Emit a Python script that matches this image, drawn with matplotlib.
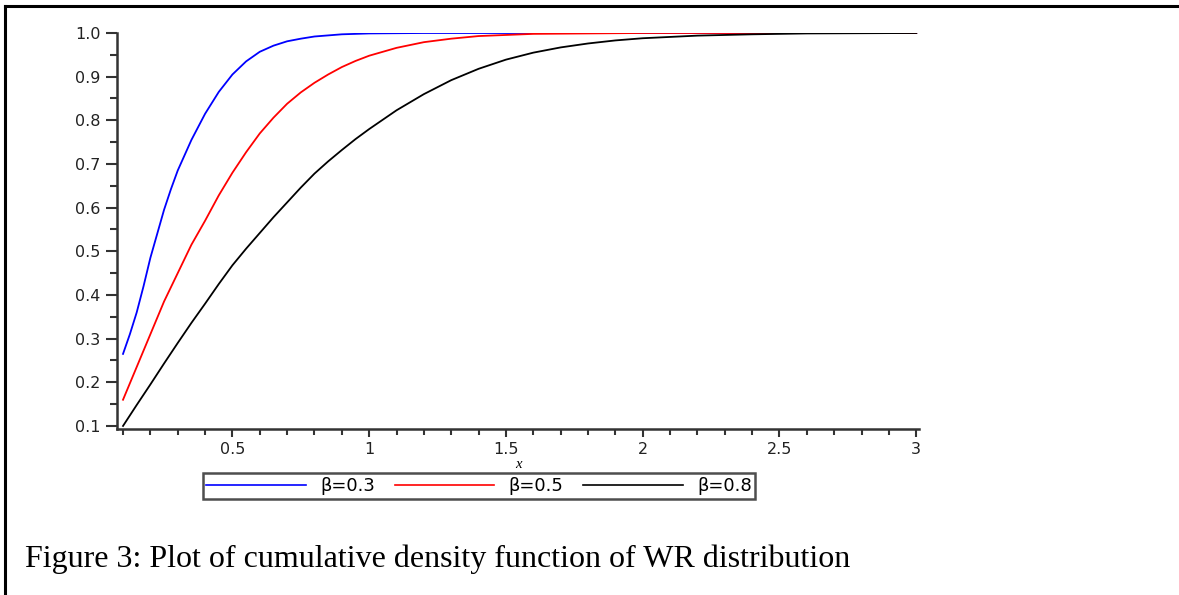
import numpy as np
import matplotlib
matplotlib.use("Agg")
import matplotlib.pyplot as plt
from matplotlib.lines import Line2D

# values
x_b03 = [0.10, 0.125, 0.15, 0.175, 0.20, 0.225, 0.25, 0.275, 0.30, 0.35, 0.40, 0.45, 0.50,
         0.55, 0.60, 0.65, 0.70, 0.75, 0.80, 0.90, 1.00, 1.20, 1.50, 2.00, 3.00]
y_b03 = [0.265, 0.31, 0.36, 0.42, 0.485, 0.54, 0.595, 0.642, 0.685, 0.755, 0.815, 0.865, 0.905,
         0.935, 0.957, 0.971, 0.981, 0.987, 0.992, 0.997, 0.999, 1.0, 1.0, 1.0, 1.0]

x_b05 = [0.10, 0.15, 0.20, 0.25, 0.30, 0.35, 0.40, 0.45, 0.50, 0.55, 0.60, 0.65, 0.70,
         0.75, 0.80, 0.85, 0.90, 0.95, 1.00, 1.10, 1.20, 1.30, 1.40, 1.60, 2.00, 2.50, 3.00]
y_b05 = [0.16, 0.235, 0.31, 0.385, 0.45, 0.515, 0.57, 0.628, 0.68, 0.727, 0.77, 0.806, 0.838,
         0.864, 0.886, 0.905, 0.922, 0.936, 0.948, 0.966, 0.979, 0.987, 0.993, 0.998, 1.0,
         1.0, 1.0]

x_b08 = [0.10, 0.15, 0.20, 0.25, 0.30, 0.35, 0.40, 0.45, 0.50, 0.55, 0.60, 0.65, 0.70,
         0.75, 0.80, 0.85, 0.90, 0.95, 1.00, 1.10, 1.20, 1.30, 1.40, 1.50, 1.60, 1.70,
         1.80, 1.90, 2.00, 2.20, 2.40, 2.60, 3.00]
y_b08 = [0.10, 0.148, 0.195, 0.243, 0.29, 0.336, 0.38, 0.425, 0.468, 0.506, 0.542, 0.578,
         0.612, 0.646, 0.678, 0.706, 0.732, 0.757, 0.78, 0.823, 0.86, 0.892, 0.918, 0.939,
         0.955, 0.967, 0.976, 0.983, 0.988, 0.994, 0.997, 0.999, 1.0]

labels = ["β=0.3", "β=0.5", "β=0.8"]
colors = ["#0000ff", "#ff0000", "#000000"]
caption = "Figure 3: Plot of cumulative density function of WR distribution"

W, H = 1179, 595
fig = plt.figure(figsize=(W / 100, H / 100), dpi=100)

# axes box in pixel coords of the reference
left, right, top, bottom = 117, 919, 33, 429
ax = fig.add_axes([left / W, 1 - bottom / H, (right - left) / W, (bottom - top) / H])

for xs, ys, c, lab in zip([x_b03, x_b05, x_b08], [y_b03, y_b05, y_b08], colors, labels):
    ax.plot(xs, ys, color=c, lw=1.3, label=lab)

ax.set_xlim(0.078, 3.01)
ax.set_ylim(0.093, 1.0)
for s in ["top", "right"]:
    ax.spines[s].set_visible(False)
for s in ["left", "bottom"]:
    ax.spines[s].set_color("#333333")
    ax.spines[s].set_linewidth(1.8)

ax.set_xticks([0.5, 1, 1.5, 2, 2.5, 3])
ax.set_xticklabels(["0.5", "1", "1.5", "2", "2.5", "3"])
ax.set_xticks(np.arange(0.1, 3.01, 0.1), minor=True)
ax.set_yticks(np.arange(0.1, 1.01, 0.1))
ax.set_yticklabels(["%.1f" % v for v in np.arange(0.1, 1.01, 0.1)])
ax.set_yticks(np.arange(0.15, 1.0, 0.1), minor=True)

ax.tick_params(axis="y", which="major", length=8, width=1.5, color="#333333",
               labelsize=11.5, pad=4, labelcolor="#222222")
ax.tick_params(axis="y", which="minor", length=5, width=1.5, color="#333333")
ax.tick_params(axis="x", which="major", length=6, width=1.5, color="#333333",
               labelsize=11.5, pad=3, labelcolor="#222222")
ax.tick_params(axis="x", which="minor", length=4, width=1.5, color="#333333")

ax.set_xlabel("x", fontsize=10.5, style="italic", family="Liberation Serif", labelpad=1)

leg = fig.legend(loc="center", bbox_to_anchor=(479 / W, 1 - 486 / H), ncol=3,
                 handlelength=5.5, columnspacing=1.1, handletextpad=0.8,
                 fontsize=13, frameon=True, fancybox=False, borderpad=0.2)
leg.get_frame().set_edgecolor("#222222")
leg.get_frame().set_linewidth(1.8)
for h in leg.get_lines():
    h.set_linewidth(1.2)

fig.text(25 / W, 1 - 567 / H, caption, family="Liberation Serif", fontsize=23,
         ha="left", va="baseline")

# page border (left and top)
fig.add_artist(Line2D([5 / W, 5 / W], [0, 1 - 6 / H], transform=fig.transFigure,
                      color="black", lw=2.2))
fig.add_artist(Line2D([5 / W, 1], [1 - 6 / H, 1 - 6 / H], transform=fig.transFigure,
                      color="black", lw=2.2))

fig.savefig("out.png", dpi=100)
